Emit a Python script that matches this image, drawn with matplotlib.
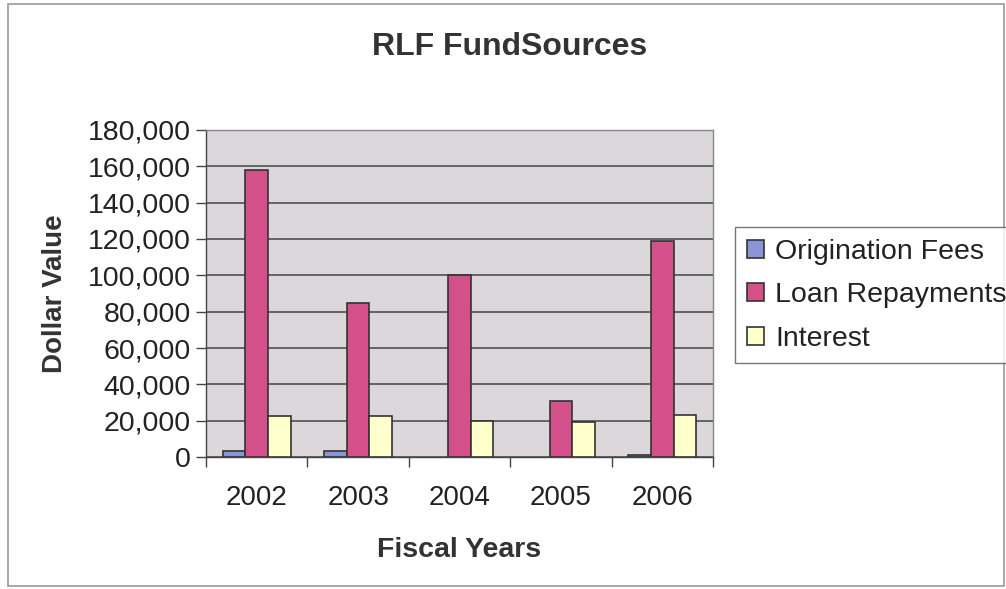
import numpy as np
import matplotlib
matplotlib.use('Agg')
from matplotlib import pyplot as plt
from matplotlib.patches import Rectangle
from matplotlib.ticker import FuncFormatter, FixedLocator

years = ['2002', '2003', '2004', '2005', '2006']
origination_fees = [3300, 3300, 0, 0, 900]
loan_repayments = [158000, 85000, 100000, 31000, 119000]
interest = [22500, 22500, 20000, 19300, 23300]
series_names = ['Origination Fees', 'Loan Repayments', 'Interest']
series_colors = ['#8a94d8', '#d4508a', '#ffffcc']


def main():
    plt.rcParams['font.family'] = ['Liberation Sans', 'DejaVu Sans']

    fig = plt.figure(figsize=(10.06, 5.89), dpi=100)
    ax = fig.add_axes([0.2048, 0.2241, 0.5039, 0.5552])
    ax.set_facecolor('#dcd7db')

    x = np.arange(len(years))
    width = 1 / 4.5
    for i, (vals, name, col) in enumerate(zip(
            [origination_fees, loan_repayments, interest], series_names, series_colors)):
        bars = ax.bar(x + (i - 1) * width, vals, width, color=col, edgecolor='#333333',
                      linewidth=1.2, label=name, zorder=3)
        # empty bars leave no outline, as in the original
        for b, v in zip(bars, vals):
            if v == 0:
                b.set_linewidth(0)

    ax.set_xlim(-0.5, len(years) - 0.5)
    ax.set_ylim(0, 180000)
    ax.set_yticks(np.arange(0, 180001, 20000))
    ax.yaxis.set_major_formatter(FuncFormatter(lambda v, p: f'{int(v):,}'))
    ax.yaxis.grid(True, color='#444444', linewidth=1.1, zorder=1)

    ax.set_xticks(x)
    ax.set_xticklabels(years)
    ax.xaxis.set_minor_locator(FixedLocator(np.arange(-0.5, len(years), 1)))
    ax.tick_params(axis='x', which='major', length=0, pad=20, labelsize=20, colors='#222222')
    ax.tick_params(axis='x', which='minor', length=7, width=1, color='#444444')
    ax.tick_params(axis='y', length=7, width=1, color='#444444', labelsize=20.5,
                   labelcolor='#222222', pad=4)

    for side, sp in ax.spines.items():
        sp.set_color('#888888')
        sp.set_linewidth(1)
    ax.spines['left'].set_color('#444444')
    ax.spines['bottom'].set_color('#444444')

    ax.set_xlabel('Fiscal Years', fontsize=20.5, fontweight='bold', color='#333333', labelpad=19)
    ax.set_ylabel('Dollar Value', fontsize=20, fontweight='bold', color='#333333', labelpad=14)
    fig.text(0.507, 0.92, 'RLF FundSources', fontsize=23, fontweight='bold',
             color='#333333', ha='center', va='center')

    leg = fig.legend(loc='upper left', bbox_to_anchor=(0.731, 0.614),
                     fontsize=20.5, frameon=True, fancybox=False,
                     handlelength=0.6, handleheight=0.6, handletextpad=0.4,
                     borderpad=0.4, labelspacing=0.62, borderaxespad=0)
    leg.get_frame().set_edgecolor('#555555')
    leg.get_frame().set_linewidth(1)
    for t in leg.get_texts():
        t.set_color('#222222')

    fig.patches.append(Rectangle((0.008, 0.005), 0.99, 0.988, transform=fig.transFigure,
                                 fill=False, edgecolor='#999999', linewidth=1.2))

    fig.savefig('out.png', dpi=100)


if __name__ == '__main__':
    main()
